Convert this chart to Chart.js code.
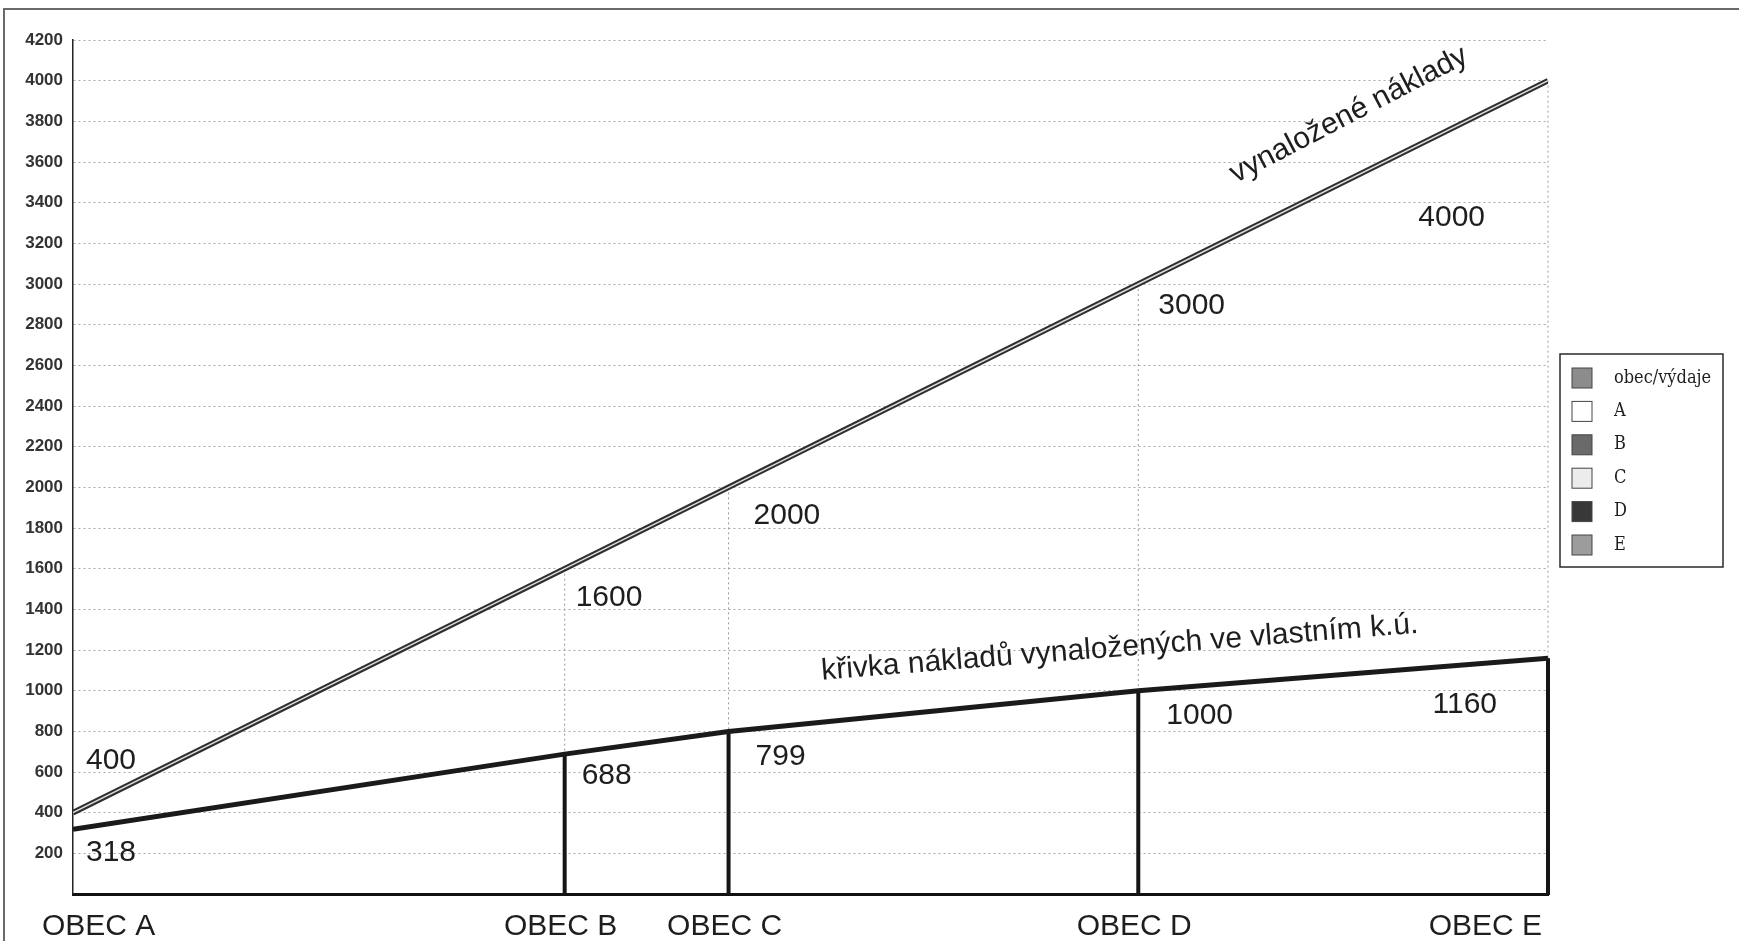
<!DOCTYPE html>
<html>
<head>
<meta charset="utf-8">
<script src="https://cdn.jsdelivr.net/npm/chart.js@4.4.1/dist/chart.umd.min.js"></script>
<style>
  html, body { margin: 0; padding: 0; background: #fff; }
  #wrap { position: relative; width: 1739px; height: 941px; }
</style>
</head>
<body>
<div id="wrap"><canvas id="lineChart"></canvas></div>
<script>
const categories = ['OBEC A', 'OBEC B', 'OBEC C', 'OBEC D', 'OBEC E'];
const totalCosts = [400, 1600, 2000, 3000, 4000]; // vynaložené náklady (also the place of each obec on the x axis)
const ownCosts = [318, 688, 799, 1000, 1160];      // náklady ve vlastním k.ú.
const legendLabels = ['obec/výdaje', 'A', 'B', 'C', 'D', 'E'];
const yMax = 4200;
const yStep = 200;

const LABEL_FONT = '30px "Liberation Sans", Arial, sans-serif';

const decor = {
  id: 'decor',
  beforeDraw(chart) {
    // frame round the picture (only top and left are visible)
    const c = chart.ctx;
    c.save();
    c.strokeStyle = '#6a6a6a';
    c.lineWidth = 2;
    c.beginPath();
    c.moveTo(4, chart.height);
    c.lineTo(4, 9);
    c.lineTo(chart.width, 9);
    c.stroke();
    c.restore();
  },
  beforeDatasetsDraw(chart) {
    const xs = chart.scales.x, ys = chart.scales.y, c = chart.ctx;
    const y0 = ys.getPixelForValue(0);
    c.save();
    // dotted drops from the upper curve
    c.setLineDash([2, 3]);
    c.strokeStyle = '#9a9a9a';
    c.lineWidth = 1;
    for (let i = 1; i < totalCosts.length; i++) {
      const x = xs.getPixelForValue(totalCosts[i]);
      c.beginPath();
      c.moveTo(x, ys.getPixelForValue(totalCosts[i]));
      c.lineTo(x, y0);
      c.stroke();
    }
    // solid drops from the lower curve
    c.setLineDash([]);
    c.strokeStyle = '#151515';
    c.lineWidth = 4;
    for (let i = 1; i < ownCosts.length; i++) {
      const x = xs.getPixelForValue(totalCosts[i]);
      c.beginPath();
      c.moveTo(x, ys.getPixelForValue(ownCosts[i]));
      c.lineTo(x, y0 + 1);
      c.stroke();
    }
    c.restore();
  },
  afterDraw(chart, args, opts) {
    const xs = chart.scales.x, ys = chart.scales.y, c = chart.ctx;
    c.save();
    c.fillStyle = '#1e1e1e';
    c.font = LABEL_FONT;
    c.textBaseline = 'middle';

    // value labels
    const put = (vals, offs) => {
      vals.forEach((v, i) => {
        const o = offs[i];
        c.textAlign = o[2] || 'left';
        c.fillText(String(v), xs.getPixelForValue(totalCosts[i]) + o[0], ys.getPixelForValue(v) + o[1]);
      });
    };
    put(totalCosts, opts.upperOffsets);
    put(ownCosts, opts.lowerOffsets);

    // obec names under the axis
    const yl = chart.chartArea.bottom + 33;
    categories.forEach((name, i) => {
      const x = xs.getPixelForValue(totalCosts[i]);
      if (i === 0) { c.textAlign = 'left'; c.fillText(name, x - 31, yl); }
      else if (i === categories.length - 1) { c.textAlign = 'right'; c.fillText(name, x - 6, yl); }
      else { c.textAlign = 'center'; c.fillText(name, x - 4, yl); }
    });

    // curve names
    opts.curveNames.forEach(cn => {
      c.save();
      c.translate(xs.getPixelForValue(cn.x), ys.getPixelForValue(cn.y));
      c.rotate(cn.angle * Math.PI / 180);
      c.textAlign = 'center';
      c.fillText(cn.text, 0, 0);
      c.restore();
    });

    // legend box
    const lg = opts.legend;
    c.strokeStyle = '#2a2a2a';
    c.lineWidth = 1.5;
    c.strokeRect(lg.x, lg.y, lg.w, lg.h);
    c.font = '18px "DejaVu Serif Condensed", "DejaVu Serif", serif';
    c.textAlign = 'left';
    legendLabels.forEach((lab, i) => {
      const cy = lg.y + 24 + i * 33.4;
      c.fillStyle = lg.colors[i];
      c.fillRect(lg.x + 12, cy - 10, 20, 20);
      c.strokeStyle = '#444';
      c.lineWidth = 1;
      c.strokeRect(lg.x + 12, cy - 10, 20, 20);
      c.fillStyle = '#1e1e1e';
      c.fillText(lab, lg.x + 54, cy);
    });
    c.restore();
  }
};

const lineChart = new Chart(document.getElementById('lineChart'), {
  type: 'line',
  data: {
    datasets: [
      {
        label: 'vynaložené náklady',
        data: totalCosts.map((v, i) => ({ x: totalCosts[i], y: v })),
        borderColor: '#dcdcdc',
        borderWidth: 1.5,
        order: 0
      },
      {
        label: 'vynaložené náklady',
        data: totalCosts.map((v, i) => ({ x: totalCosts[i], y: v })),
        borderColor: '#2e2e2e',
        borderWidth: 5.5,
        order: 1
      },
      {
        label: 'křivka nákladů vynaložených ve vlastním k.ú.',
        data: ownCosts.map((v, i) => ({ x: totalCosts[i], y: v })),
        borderColor: '#1a1a1a',
        borderWidth: 5,
        order: 2
      }
    ]
  },
  options: {
    responsive: true,
    maintainAspectRatio: false,
    animation: false,
    layout: { padding: { top: 40, right: 191, left: 0, bottom: 0 } },
    elements: { point: { radius: 0 }, line: { tension: 0 } },
    scales: {
      x: {
        type: 'linear',
        min: totalCosts[0],
        max: totalCosts[totalCosts.length - 1],
        offset: false,
        grid: { display: false },
        ticks: { display: false },
        border: { color: '#111', width: 3 },
        afterFit: s => { s.height = 47; }
      },
      y: {
        min: 0,
        max: yMax,
        grid: { color: '#a8a8a8', lineWidth: 1, drawTicks: false },
        border: { color: '#222', width: 1.5, dash: [2, 3] },
        ticks: {
          stepSize: yStep,
          padding: 10,
          color: '#333',
          font: { family: '"Liberation Sans", Arial, sans-serif', size: 17, weight: 'bold' },
          callback: v => (v === 0 ? '' : v)
        },
        afterFit: s => { s.width = 73; }
      }
    },
    plugins: {
      legend: { display: false },
      tooltip: { enabled: false },
      decor: {
        upperOffsets: [[13, -52], [11, 29], [25, 28], [20, 22], [-63, 137, 'right']],
        lowerOffsets: [[13, 23], [17, 22], [27, 25], [28, 25], [-51, 47, 'right']],
        curveNames: [
          { text: 'vynaložené náklady', x: 3514, y: 3831, angle: -27.5 },
          { text: 'křivka nákladů vynaložených ve vlastním k.ú.', x: 2955, y: 1210, angle: -4.5 }
        ],
        legend: {
          x: 1560, y: 354, w: 163, h: 213,
          colors: ['#8c8c8c', '#ffffff', '#6a6a6a', '#ececec', '#383838', '#9c9c9c']
        }
      }
    }
  },
  plugins: [decor]
});
</script>
</body>
</html>
